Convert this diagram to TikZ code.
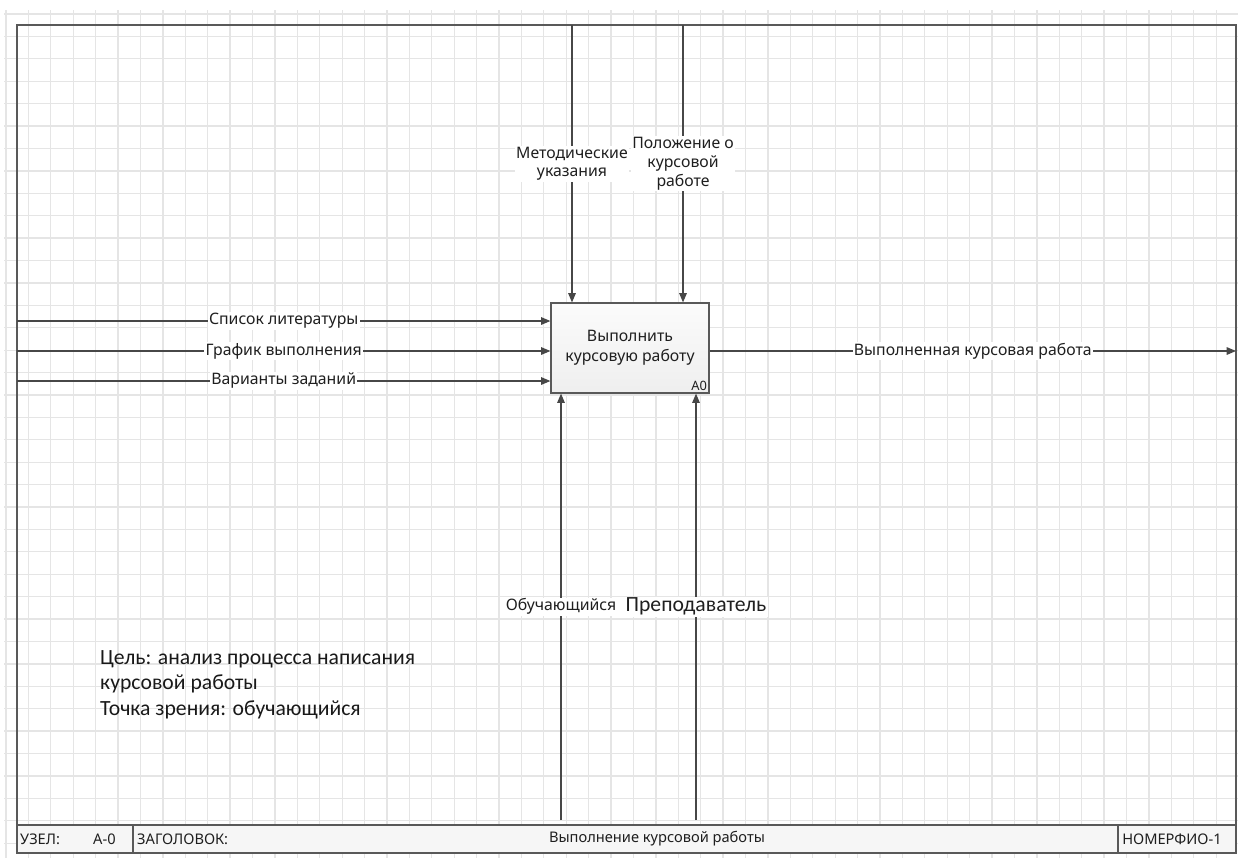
\documentclass[tikz,border=0pt]{standalone}
\usepackage{fontspec}
\setmainfont{Noto Sans}
\newfontfamily\calfont{Carlito}
\usetikzlibrary{arrows.meta,calc}

\begin{document}
\begin{tikzpicture}[x=0.03cm,y=-0.03cm]
    \tikzstyle{grid line}=[draw=gray!20, line width=1.1pt]
    \tikzstyle{frame}=[draw=black!65, line width=1.3pt]
    \tikzstyle{flow}=[draw=black!72, line width=1pt, -{Triangle[length=8pt,width=6.5pt]}]
    \tikzstyle{flow text}=[fill=white, inner sep=1pt, text=black!88, align=center, font=\fontsize{13.5pt}{16pt}\selectfont]
    \tikzstyle{activity}=[rectangle, draw=black!65, line width=1pt, top color=gray!3, bottom color=gray!13, minimum width=4.74cm, minimum height=2.7cm, align=center, text=black!88, font=\fontsize{13.5pt}{17pt}\selectfont]
    \tikzstyle{bar text}=[anchor=west, inner sep=0pt, text=black!88, font=\fontsize{12.5pt}{15pt}\selectfont]
    \tikzstyle{note}=[anchor=north west, align=left, inner sep=0pt, text=black!90, font=\calfont\fontsize{18.5pt}{22pt}\selectfont]

    \useasboundingbox (0,0) rectangle (1238,858);
    \foreach \i in {0,...,54}
        \draw[grid line] ({6+22.41*\i},10) -- ({6+22.41*\i},858);
    \foreach \j in {0,...,37}
        \draw[grid line] (4,{14+22.41*\j}) -- (1238,{14+22.41*\j});

    \draw[frame] (17,25) rectangle (1236,825);
    \draw[frame, fill=gray!7] (17,825) rectangle (1236,853);
    \draw[frame] (133,825) -- (133,853);
    \draw[frame] (1118,825) -- (1118,853);

    \node(node cell)[bar text] at (20,839) {УЗЕЛ:};
    \node(node num)[bar text] at (93,839) {А-0};
    \node(title cell)[bar text] at (137,839) {ЗАГОЛОВОК:};
    \node(title)[bar text, anchor=center] at (657,839) {Выполнение курсовой работы};
    \node(number)[bar text] at (1122,839) {НОМЕРФИО-1};

    \node(A0)[activity] at (630,348) {Выполнить\\курсовую работу};
    \node(A0 num)[anchor=south east, inner sep=2pt, text=black!88, font=\fontsize{11pt}{13pt}\selectfont] at (A0.south east) {A0};

    \coordinate(c1) at (572,25);
    \coordinate(c2) at (683,25);
    \coordinate(i1) at (17,321);
    \coordinate(i2) at (17,351);
    \coordinate(i3) at (17,381);
    \coordinate(o1) at (1236,351);
    \coordinate(m1) at (561,820);
    \coordinate(m2) at (696,820);

    \draw[flow] (i1) -- node[flow text]{Список литературы} (i1 -| A0.west);
    \draw[flow] (i2) -- node[flow text]{График выполнения} (i2 -| A0.west);
    \draw[flow] (i3) -- node[flow text]{Варианты заданий} (i3 -| A0.west);
    \draw[flow] (c1) -- node[flow text]{Методические\\указания} (c1 |- A0.north);
    \draw[flow] (c2) -- node[flow text]{Положение о\\курсовой\\работе} (c2 |- A0.north);
    \draw[flow] (A0.east |- o1) -- node[flow text]{Выполненная курсовая работа} (o1);
    \draw[flow] (m1) -- node[flow text]{Обучающийся} (m1 |- A0.south);
    \draw[flow] (m2) -- node[flow text, font=\calfont\fontsize{18.5pt}{22pt}\selectfont]{Преподаватель} (m2 |- A0.south);

    \node(goal)[note] at (100,650) {Цель: анализ процесса написания\\курсовой работы\\Точка зрения: обучающийся};
\end{tikzpicture}
\end{document}
